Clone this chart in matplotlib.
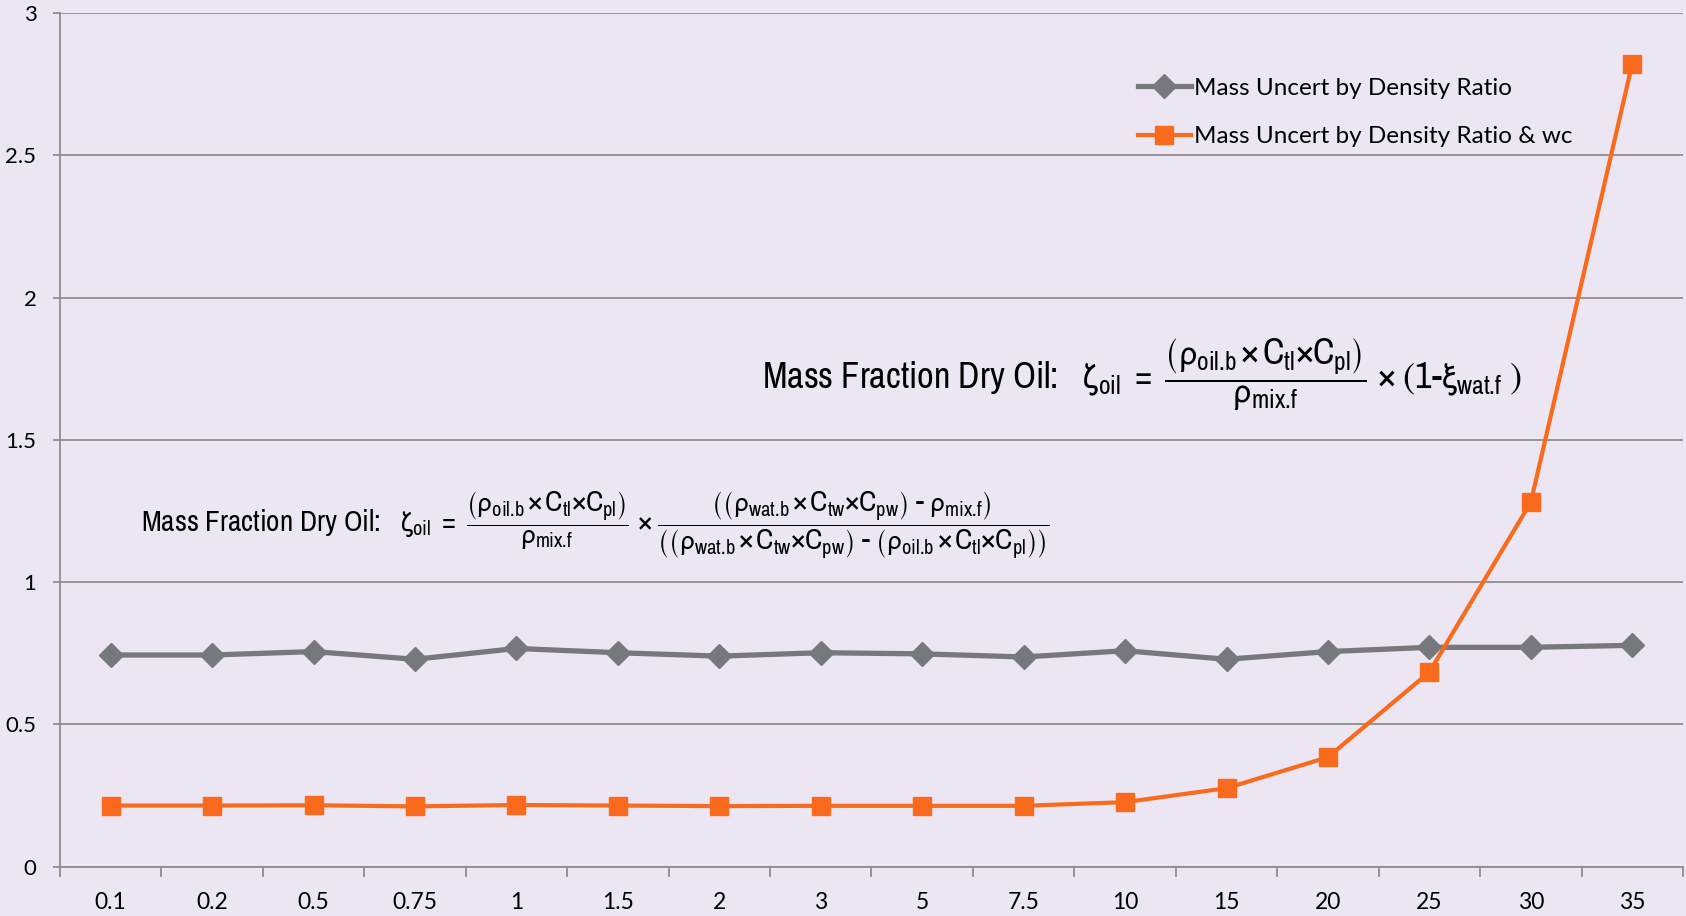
import numpy as np
import matplotlib
matplotlib.use("Agg")
import matplotlib.pyplot as plt
from matplotlib import font_manager

# data: mass uncertainty vs water cut
wc_labels = ["0.1", "0.2", "0.5", "0.75", "1", "1.5", "2", "3", "5", "7.5",
             "10", "15", "20", "25", "30", "35"]
dens_ratio = [0.744, 0.744, 0.756, 0.729, 0.767, 0.752, 0.740, 0.752, 0.748,
              0.737, 0.759, 0.729, 0.756, 0.771, 0.771, 0.778]
dens_ratio_wc = [0.215, 0.215, 0.216, 0.212, 0.217, 0.215, 0.213, 0.214, 0.214,
                 0.214, 0.227, 0.276, 0.385, 0.684, 1.281, 2.822]
yticks = [0, 0.5, 1, 1.5, 2, 2.5, 3]

# pick a narrow sans for the equations if there is one
installed = {f.name for f in font_manager.fontManager.ttflist}
narrow = [n for n in sorted(installed) if ("Narrow" in n or "Condensed" in n)]
if "Liberation Sans Narrow" in installed:
    eq_font, eq_sizes = "Liberation Sans Narrow", (26, 21)
elif narrow:
    eq_font, eq_sizes = narrow[0], (26, 21)
else:
    eq_font, eq_sizes = "Liberation Sans", (22, 16.5)
lab_font = "Lato" if "Lato" in installed else "DejaVu Sans"

plt.rcParams["mathtext.fontset"] = "custom"
plt.rcParams["mathtext.rm"] = eq_font
plt.rcParams["mathtext.it"] = eq_font
plt.rcParams["mathtext.bf"] = eq_font + ":bold"
plt.rcParams["mathtext.sf"] = eq_font
plt.rcParams["mathtext.fallback"] = "stixsans"

bg = "#ECE5F2"
grid_c = "#8E8E8E"
grey = "#77787B"
orange = "#FA6A1C"

fig = plt.figure(figsize=(16.86, 9.16), dpi=100, facecolor=bg)
ax = fig.add_axes([0.0356, 0.0538, 0.9626, 0.932])
ax.set_facecolor(bg)

x = np.arange(len(wc_labels))
ax.plot(x, dens_ratio, color=grey, lw=3.8, marker="D", ms=12,
        label="Mass Uncert by Density Ratio", zorder=3)
ax.plot(x, dens_ratio_wc, color=orange, lw=3.0, marker="s", ms=13,
        label="Mass Uncert by Density Ratio & wc", zorder=4)

ax.set_xlim(-0.5, len(wc_labels) - 0.5)
ax.set_ylim(0, 3)
ax.set_yticks(yticks)
ax.set_yticklabels([f"{v:g}" for v in yticks], fontsize=16, family=lab_font)
ax.set_xticks(x)
ax.set_xticklabels(wc_labels, fontsize=16.5, family=lab_font)
ax.set_xticks(np.arange(-0.5, len(wc_labels)), minor=True)
ax.tick_params(axis="x", which="major", length=0, pad=18)
ax.tick_params(axis="x", which="minor", length=7, width=1.3, color=grid_c)
ax.tick_params(axis="y", length=5, width=1.3, color=grid_c, pad=12)

ax.grid(axis="y", color=grid_c, lw=1.3)
ax.set_axisbelow(True)
for s in ["top", "right"]:
    ax.spines[s].set_visible(False)
for s in ["left", "bottom"]:
    ax.spines[s].set_color(grid_c)
    ax.spines[s].set_linewidth(1.3)

ax.legend(loc="upper left", bbox_to_anchor=(0.664, 0.924), frameon=False,
          prop={"family": lab_font, "size": 17.5}, handlelength=2.2,
          handletextpad=0.12, labelspacing=1.13, borderpad=0, borderaxespad=0)

# mass fraction equations
rho, zeta, xi = r"\mathrm{\rho}", r"\mathrm{\zeta}", r"\mathrm{\xi}"
oil_num = (r"\left(" + rho + r"_{\text{oil.b}}\,\text{×}\,C_{\text{tl}}"
           r"\text{×}C_{\text{pl}}\right)")
wat_term = (r"\left(" + rho + r"_{\text{wat.b}}\,\text{×}\,C_{\text{tw}}"
            r"\text{×}C_{\text{pw}}\right)")
mix = rho + r"_{\text{mix.f}}"
head = r"\text{Mass Fraction Dry Oil:}\ \ \ " + zeta + r"_{\text{oil}}\ =\ "

eq1 = ("$" + head + r"\dfrac{" + oil_num + "}{" + mix + "}"
       r"\ \text{×}\ \left(1\text{-}" + xi + r"_{\text{wat.f}}\ \right)$")
ax.text(6.42, 1.727, eq1, fontsize=eq_sizes[0], ha="left", va="center")

eq2 = ("$" + head + r"\dfrac{" + oil_num + "}{" + mix + r"}\ \text{×}\ "
       r"\dfrac{\left(" + wat_term + r"\ \text{-}\ " + mix + r"\right)}"
       r"{\left(" + wat_term + r"\ \text{-}\ " + oil_num + r"\right)}$")
ax.text(0.295, 1.199, eq2, fontsize=eq_sizes[1], ha="left", va="center")

fig.savefig("out.png", dpi=100, facecolor=bg)
